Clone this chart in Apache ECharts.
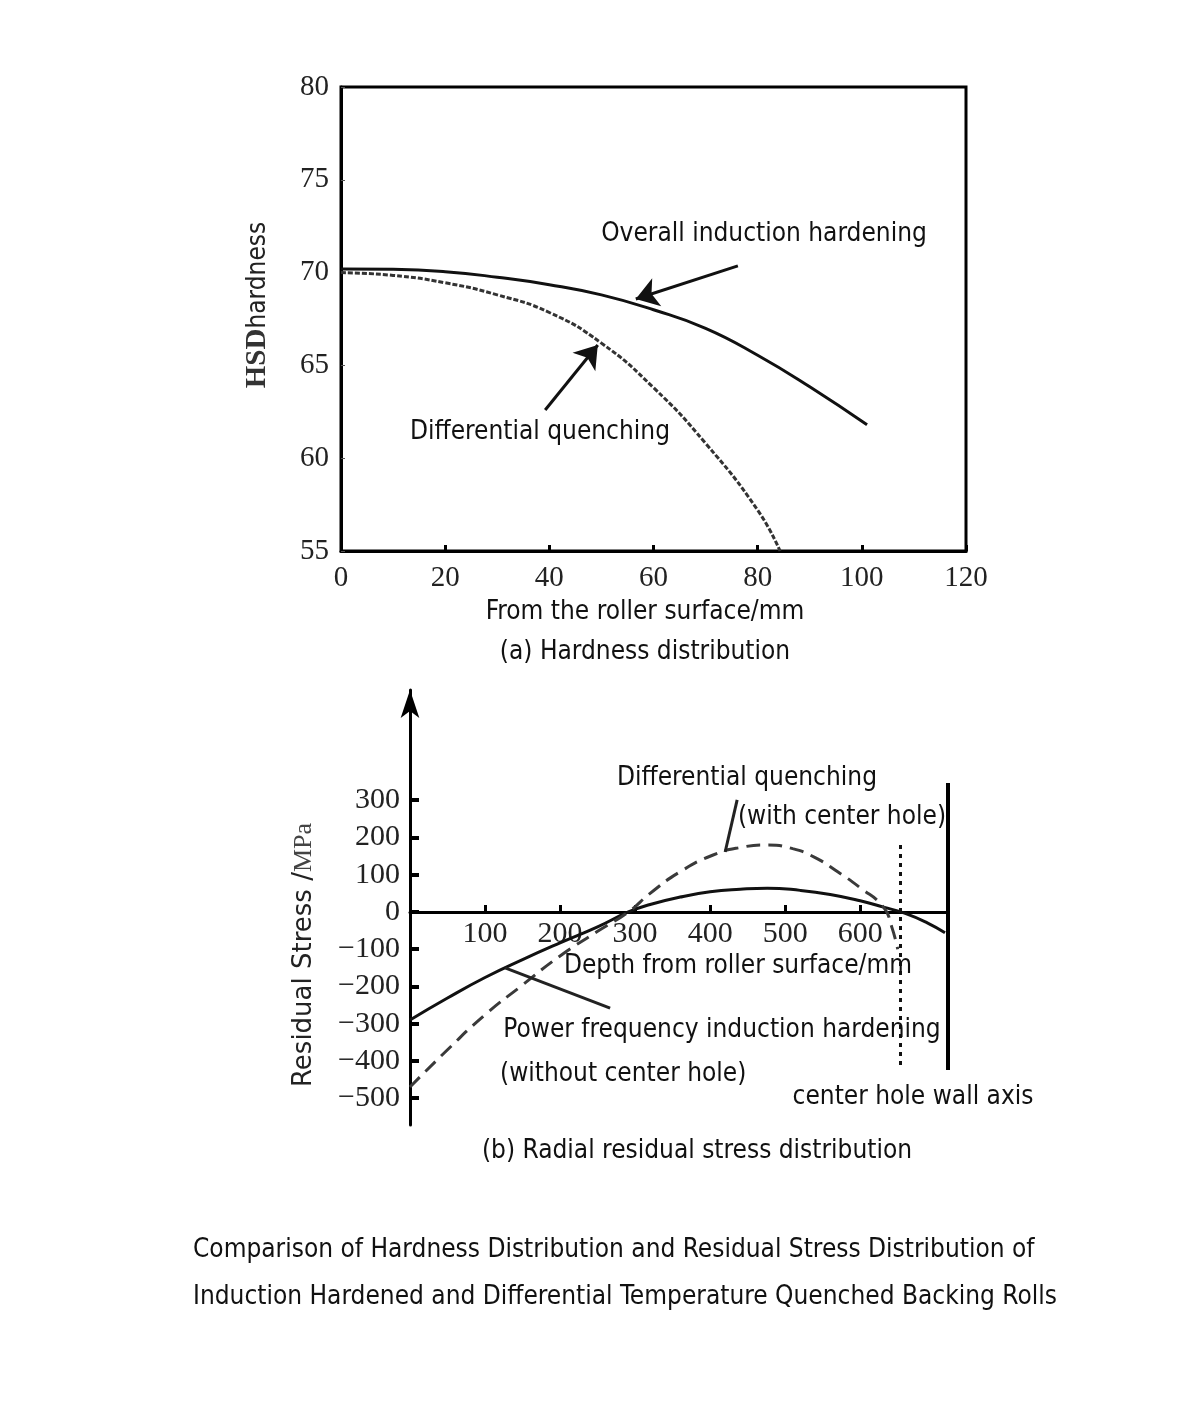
<!DOCTYPE html>
<html><head><meta charset="utf-8">
<script src="https://cdn.jsdelivr.net/npm/echarts@6/dist/echarts.min.js"></script>
<style>html,body{margin:0;padding:0;background:#fff}#c{width:1200px;height:1428px}</style>
</head><body><div id="c"></div>
<script>
// (a) Hardness distribution
const hardX_overall = [0,10,20,30,40,50,60,70,80,90,101];
const hardY_overall = [70.2,70.18,70.05,69.75,69.35,68.8,68.0,67.0,65.55,63.85,61.8];
const hardX_diff = [0,10,20,30,40,50,60,70,80,84.3];
const hardY_diff = [70.0,69.85,69.45,68.8,67.85,66.2,63.8,60.8,57.2,55.0];
const hardXTicks = [0,20,40,60,80,100,120];
const hardYTicks = [55,60,65,70,75,80];

// (b) Radial residual stress distribution
const stressX_power = [0,50,100,150,200,250,291,320,360,400,440,476,520,560,600,631,660,690,713];
const stressY_power = [-290,-231,-176,-128,-83,-40,0,20,40,54,61,64,58,47,30,13,-4,-30,-56];
const stressX_diff = [0,50,100,150,200,250,291,320,360,404,440,476,510,540,570,600,631,642,650];
const stressY_diff = [-470,-370,-276,-196,-118,-52,0,50,108,153,173,180,170,146,108,65,13,-40,-100];
const stressXTicks = [100,200,300,400,500,600];
const stressYTicks = [-500,-400,-300,-200,-100,0,100,200,300];

const zip = (xs, ys) => xs.map((x, i) => [x, ys[i]]);
const SERIF = "'Liberation Serif','DejaVu Serif',serif";
const NARROW = "'Liberation Sans Narrow','DejaVu Sans Condensed','Liberation Sans',sans-serif";
const minus = v => (v < 0 ? '\u2212' + (-v) : String(v));

function txt(x, y, text, opts) {
  return Object.assign({
    type: 'text', x: x, y: y,
    style: Object.assign({ text: text, font: '26px ' + NARROW, fill: '#111', align: 'center', verticalAlign: 'middle' }, (opts && opts.style) || {})
  }, (opts && opts.el) || {});
}

const chart = echarts.init(document.getElementById('c'), null, { renderer: 'canvas' });
const option = {
  backgroundColor: '#fff',
  animation: false,
  grid: [
    { left: 341, top: 87, width: 625, height: 464, show: true, borderColor: '#000', borderWidth: 3, backgroundColor: 'transparent' },
    { left: 410, top: 690, width: 538, height: 435 },
    { left: 410, top: 690, width: 538, height: 222 }
  ],
  xAxis: [
    {
      gridIndex: 0, type: 'value', min: 0, max: 120, interval: 20,
      axisLine: { lineStyle: { color: '#000', width: 3 } },
      axisTick: { inside: true, length: 6, lineStyle: { color: '#000', width: 3 } },
      axisLabel: { fontFamily: SERIF, fontSize: 29, color: '#222', margin: 13 },
      splitLine: { show: false }
    },
    {
      gridIndex: 1, type: 'value', min: 0, max: 717, show: false,
      splitLine: { show: false }
    },
    {
      gridIndex: 2, type: 'value', min: 0, max: 717, position: 'bottom',
      axisLine: { onZero: false, lineStyle: { color: '#000', width: 3 } },
      axisTick: { inside: true, length: 7, customValues: stressXTicks, lineStyle: { color: '#000', width: 3 } },
      axisLabel: { customValues: stressXTicks, fontFamily: SERIF, fontSize: 30, color: '#222', margin: 7 },
      splitLine: { show: false }
    }
  ],
  yAxis: [
    {
      gridIndex: 0, type: 'value', min: 55, max: 80, interval: 5,
      axisLine: { lineStyle: { color: '#000', width: 3 } },
      axisTick: { inside: true, length: 4, lineStyle: { color: '#555', width: 1 } },
      axisLabel: { fontFamily: SERIF, fontSize: 29, color: '#222', margin: 12 },
      splitLine: { show: false }
    },
    {
      gridIndex: 1, type: 'value', min: -572, max: 596,
      axisLine: { onZero: false, symbol: ['none', 'arrow'], symbolSize: [14, 28], lineStyle: { color: '#000', width: 3 } },
      axisTick: { inside: true, length: 9, customValues: stressYTicks, lineStyle: { color: '#000', width: 4 } },
      axisLabel: { customValues: stressYTicks, formatter: minus, fontFamily: SERIF, fontSize: 30, color: '#222', margin: 10 },
      splitLine: { show: false }
    },
    {
      gridIndex: 2, type: 'value', min: 0, max: 1, show: false
    }
  ],
  series: [
    {
      name: 'Overall induction hardening', type: 'line', xAxisIndex: 0, yAxisIndex: 0,
      data: zip(hardX_overall, hardY_overall), smooth: true, showSymbol: false,
      lineStyle: { color: '#111', width: 3 },
      markLine: {
        silent: true, symbol: ['none', 'arrow'], symbolSize: 22, label: { show: false },
        lineStyle: { color: '#111', width: 3, type: 'solid' },
        data: [
          [{ coord: [76.2, 70.36] }, { coord: [56.6, 68.58] }],
          [{ coord: [39.2, 62.6] }, { coord: [49.3, 66.1] }]
        ]
      }
    },
    {
      name: 'Differential quenching', type: 'line', xAxisIndex: 0, yAxisIndex: 0,
      data: zip(hardX_diff, hardY_diff), smooth: true, showSymbol: false,
      lineStyle: { color: '#333', width: 3, type: [5, 2] }
    },
    {
      name: 'Power frequency induction hardening (without center hole)', type: 'line', xAxisIndex: 1, yAxisIndex: 1,
      data: zip(stressX_power, stressY_power), smooth: 0.5, showSymbol: false,
      lineStyle: { color: '#111', width: 3 },
      markLine: {
        silent: true, symbol: ['none', 'none'], label: { show: false },
        lineStyle: { color: '#222', width: 3, type: 'solid' },
        data: [
          [{ coord: [126.7, -150] }, { coord: [266.7, -258] }],
          [{ coord: [436, 301] }, { coord: [420, 161] }]
        ]
      }
    },
    {
      name: 'Differential quenching (with center hole)', type: 'line', xAxisIndex: 1, yAxisIndex: 1,
      data: zip(stressX_diff, stressY_diff), smooth: 0.5, showSymbol: false,
      lineStyle: { color: '#3a3a3a', width: 3, type: [14, 8] }
    },
    {
      name: 'center hole wall', type: 'line', xAxisIndex: 1, yAxisIndex: 1, data: [],
      markLine: {
        silent: true, symbol: ['none', 'none'], label: { show: false },
        lineStyle: { color: '#111', width: 3, type: [4, 5] },
        data: [[{ coord: [653, 180] }, { coord: [653, -411] }]]
      }
    },
    {
      name: 'axis', type: 'line', xAxisIndex: 1, yAxisIndex: 1, data: [],
      markLine: {
        silent: true, symbol: ['none', 'none'], label: { show: false },
        lineStyle: { color: '#000', width: 4, type: 'solid' },
        data: [[{ coord: [717, 346] }, { coord: [717, -424] }]]
      }
    }
  ],
  graphic: [
    txt(764, 234, 'Overall induction hardening'),
    txt(540, 432, 'Differential quenching'),
    txt(645, 612, 'From the roller surface/mm'),
    txt(645, 652, '(a) Hardness distribution'),
    {
      type: 'text', x: 258, y: 305, rotation: Math.PI / 2,
      style: {
        text: '{a|HSD}{b|hardness}', align: 'center', verticalAlign: 'middle', fill: '#222',
        rich: {
          a: { font: 'bold 29px ' + SERIF, fill: '#333' },
          b: { font: '26px ' + NARROW, fill: '#222' }
        }
      }
    },
    txt(747, 778, 'Differential quenching'),
    txt(842, 817, '(with center hole)'),
    txt(738, 966, 'Depth from roller surface/mm'),
    txt(722, 1030, 'Power frequency induction hardening'),
    txt(500, 1074, '(without center hole)', { style: { align: 'left' } }),
    txt(913, 1097, 'center hole wall axis'),
    txt(697, 1151, '(b) Radial residual stress distribution'),
    {
      type: 'text', x: 304, y: 955, rotation: Math.PI / 2,
      style: {
        text: '{a|Residual Stress /}{b|MPa}', align: 'center', verticalAlign: 'middle', fill: '#222',
        rich: {
          a: { font: '26px ' + "'DejaVu Sans','Liberation Sans',sans-serif", fill: '#222' },
          b: { font: '26px ' + SERIF, fill: '#444' }
        }
      }
    },
    txt(193, 1250, 'Comparison of Hardness Distribution and Residual Stress Distribution of', { style: { align: 'left' } }),
    txt(193, 1297, 'Induction Hardened and Differential Temperature Quenched Backing Rolls', { style: { align: 'left' } })
  ]
};
chart.setOption(option);
</script>
</body></html>
